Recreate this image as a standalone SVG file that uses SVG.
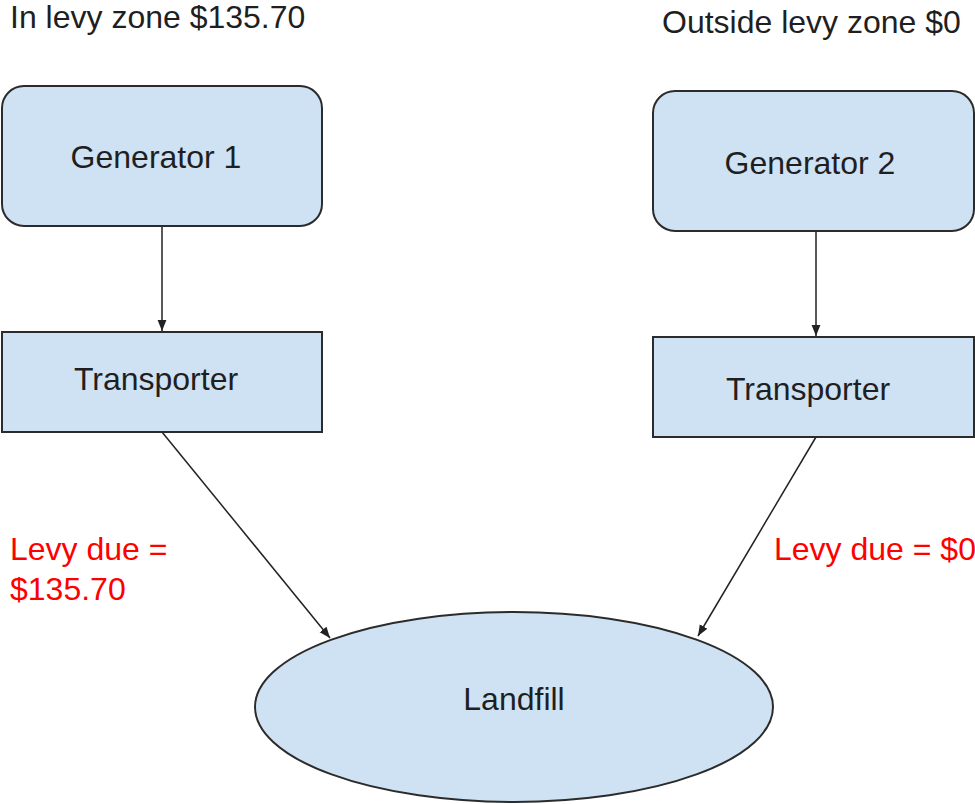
<svg xmlns="http://www.w3.org/2000/svg" width="975" height="804" viewBox="0 0 975 804">
<style>
  .node { fill: #cfe2f3; stroke: #2b2b2b; stroke-width: 2; }
  .label { font-family: "Liberation Sans", Arial, sans-serif; font-size: 32px; fill: #1f1f1f; }
  .mid { text-anchor: middle; }
  .red { font-family: "Liberation Sans", Arial, sans-serif; font-size: 32px; fill: #ff0000; }
  .conn { stroke: #222; stroke-width: 1.5; fill: none; marker-end: url(#arrow); }
</style>
<defs>
  <marker id="arrow" viewBox="0 0 10 10" refX="10" refY="5" markerWidth="11" markerHeight="11" markerUnits="userSpaceOnUse" orient="auto">
    <path d="M0,1 L10,5 L0,9 Z" fill="#222"/>
  </marker>
</defs>
<rect width="975" height="804" fill="#ffffff"/>
<text class="label" x="10" y="28">In levy zone $135.70</text>
<text class="label" x="662" y="33">Outside levy zone $0</text>
<g id="connectors">
  <line class="conn" x1="162" y1="226" x2="162" y2="331"/>
  <line class="conn" x1="162" y1="432" x2="330" y2="638"/>
  <line class="conn" x1="816" y1="231" x2="816" y2="336"/>
  <line class="conn" x1="816" y1="437" x2="698" y2="636"/>
</g>
<g id="generator1">
  <rect class="node" x="2" y="86" width="320" height="140" rx="22" ry="22"/>
  <text class="label mid" x="156" y="168">Generator 1</text>
</g>
<g id="generator2">
  <rect class="node" x="653" y="91" width="321" height="140" rx="22" ry="22"/>
  <text class="label mid" x="810" y="174">Generator 2</text>
</g>
<g id="transporter1">
  <rect class="node" x="2" y="332" width="320" height="100"/>
  <text class="label mid" x="156" y="390">Transporter</text>
</g>
<g id="transporter2">
  <rect class="node" x="653" y="337" width="321" height="100"/>
  <text class="label mid" x="808" y="400">Transporter</text>
</g>
<g id="landfill">
  <ellipse class="node" cx="514" cy="707" rx="259" ry="95"/>
  <text class="label mid" x="514" y="710">Landfill</text>
</g>
<text class="red" x="10" y="560">Levy due =</text>
<text class="red" x="10" y="600">$135.70</text>
<text class="red" x="774" y="560">Levy due = $0</text>
</svg>
